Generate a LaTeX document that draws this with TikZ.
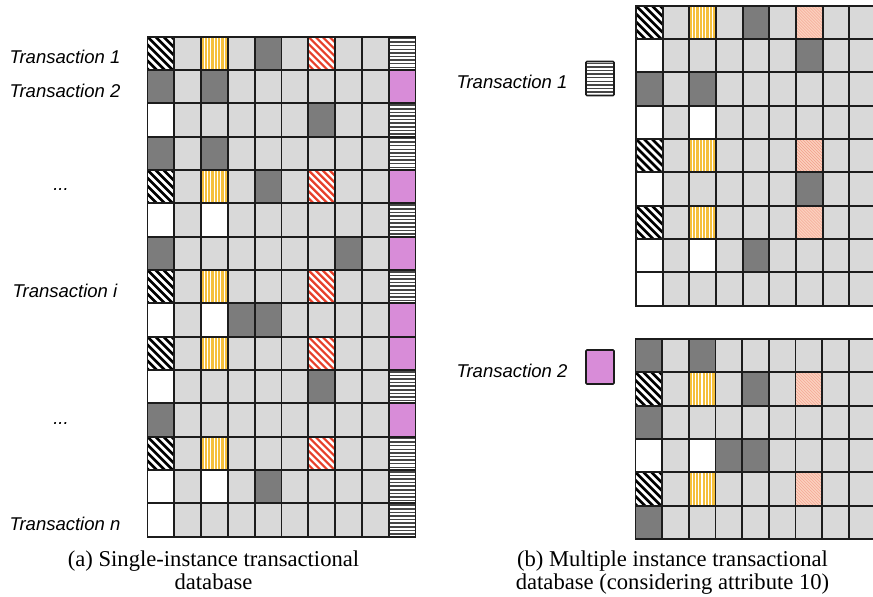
\documentclass[tikz,border=0pt]{standalone}
\usepackage{fontspec}
\setmainfont{Liberation Serif}
\newfontfamily\labelfont{Liberation Sans}

\definecolor{cgray}{RGB}{217,217,217}
\definecolor{cdark}{RGB}{124,124,124}
\definecolor{cpink}{RGB}{216,140,216}
\definecolor{cyellow}{RGB}{245,192,60}
\definecolor{cred}{RGB}{232,64,42}
\definecolor{cpale}{RGB}{251,208,190}
\definecolor{cpaleline}{RGB}{242,158,138}
\definecolor{cstripe}{RGB}{70,70,70}
\definecolor{cline}{RGB}{28,28,28}

% ---- cell painters: #1,#2 = top-left corner, #3 = width, #4 = height (pixels)
\newcommand\dbcellg[4]{\fill[cgray] (#1,#2) rectangle ++(#3,#4);}
\newcommand\dbcelld[4]{\fill[cdark] (#1,#2) rectangle ++(#3,#4);}
\newcommand\dbcellw[4]{\fill[white] (#1,#2) rectangle ++(#3,#4);}
\newcommand\dbcellp[4]{\fill[cpink] (#1,#2) rectangle ++(#3,#4);}
% black diagonal hatching
\newcommand\dbcellh[4]{\fill[white] (#1,#2) rectangle ++(#3,#4);
  \begin{scope}\clip (#1,#2) rectangle ++(#3,#4);
  \foreach \k in {-40,-32,...,32} \draw[black, line width=2.3pt] ({#1+(\k)},#2) -- ++(42,42);
  \end{scope}}
% red diagonal hatching
\newcommand\dbcellr[4]{\fill[white] (#1,#2) rectangle ++(#3,#4);
  \begin{scope}\clip (#1,#2) rectangle ++(#3,#4);
  \foreach \k in {-42,-35,...,35} \draw[cred, line width=1.9pt] ({#1+(\k)},#2) -- ++(42,42);
  \end{scope}}
% pale red, finely hatched
\newcommand\dbcellq[4]{\fill[cpale] (#1,#2) rectangle ++(#3,#4);
  \begin{scope}\clip (#1,#2) rectangle ++(#3,#4);
  \foreach \k in {-42,-39,...,36} \draw[cpaleline, line width=0.35pt] ({#1+(\k)},#2) -- ++(42,42);
  \end{scope}}
% yellow vertical stripes
\newcommand\dbcelly[4]{\fill[white] (#1,#2) rectangle ++(#3,#4);
  \begin{scope}\clip (#1,#2) rectangle ++(#3,#4);
  \foreach \k in {0,...,8} \draw[cyellow, line width=1.9pt] ({#1+1.6+\k*3.3},#2) -- ++(0,#4);
  \end{scope}}
% horizontal stripes
\newcommand\dbcells[4]{\fill[white] (#1,#2) rectangle ++(#3,#4);
  \begin{scope}\clip (#1,#2) rectangle ++(#3,#4);
  \foreach \k in {0,...,9} \draw[cstripe, line width=1.3pt] (#1,{#2+1.8+\k*3.6}) -- ++(#3,0);
  \end{scope}}

% one row of cells: x0, y0, cell width, cell height, list of cell codes (macro)
\newcommand\dbrow[5]{\foreach \t [count=\i from 0] in #5 {%
  \csname dbcell\t\endcsname{#1+\i*#3}{#2}{#3}{#4}}}
% grid lines: x0, y0, cell width, cell height, columns, rows
\newcommand\dblines[6]{%
  \foreach \i in {0,...,#5} \draw[gridline] ({#1+\i*#3},#2) -- ++(0,{#6*#4});
  \foreach \j in {0,...,#6} \draw[gridline] (#1,{#2+\j*#4}) -- ++({#5*#3},0);}

\begin{document}
\begin{tikzpicture}[x=0.03cm, y=-0.03cm,
  gridline/.style={cline, line width=1.6pt, line cap=rect},
  lbl/.style={font=\labelfont\itshape\fontsize{15.8}{18}\selectfont, inner sep=0pt, anchor=base},
  captext/.style={font=\fontsize{19.3}{20}\selectfont, inner sep=0pt, anchor=base}]
\useasboundingbox (0,0) rectangle (873,597);
\clip (0,0) rectangle (873,597);

% ---------- (a) single-instance database
\foreach \r [count=\j from 0] in {
  {h,g,y,g,d,g,r,g,g,s},
  {d,g,d,g,g,g,g,g,g,p},
  {w,g,g,g,g,g,d,g,g,s},
  {d,g,d,g,g,g,g,g,g,s},
  {h,g,y,g,d,g,r,g,g,p},
  {w,g,w,g,g,g,g,g,g,s},
  {d,g,g,g,g,g,g,d,g,p},
  {h,g,y,g,g,g,r,g,g,s},
  {w,g,w,d,d,g,g,g,g,p},
  {h,g,y,g,g,g,r,g,g,p},
  {w,g,g,g,g,g,d,g,g,s},
  {d,g,g,g,g,g,g,g,g,p},
  {h,g,y,g,g,g,r,g,g,s},
  {w,g,w,g,d,g,g,g,g,s},
  {w,g,g,g,g,g,g,g,g,s}}
  {\dbrow{147.5}{36.7+\j*33.333}{26.8}{33.333}{\r}}
\dblines{147.5}{36.7}{26.8}{33.333}{10}{15}

\node[lbl] (ta1) at (65,63.8) {Transaction 1};
\node[lbl] (ta2) at (65,97.2) {Transaction 2};
\node[lbl] (tadots1) at (61,190.5) {...};
\node[lbl] (tai) at (65,297.2) {Transaction i};
\node[lbl] (tadots2) at (61,424) {...};
\node[lbl] (tan) at (65,530.5) {Transaction n};

\node[captext] (capa1) at (213.5,566.5) {(a) Single-instance transactional};
\node[captext] (capa2) at (213.5,589.5) {database};

% ---------- (b) multiple-instance database, attribute 10
\foreach \r [count=\j from 0] in {
  {h,g,y,g,d,g,q,g,g},
  {w,g,g,g,g,g,d,g,g},
  {d,g,d,g,g,g,g,g,g},
  {w,g,w,g,g,g,g,g,g},
  {h,g,y,g,g,g,q,g,g},
  {w,g,g,g,g,g,d,g,g},
  {h,g,y,g,g,g,q,g,g},
  {w,g,w,g,d,g,g,g,g},
  {w,g,g,g,g,g,g,g,g}}
  {\dbrow{636}{5.7+\j*33.333}{26.67}{33.333}{\r}}
\dblines{636}{5.7}{26.67}{33.333}{9}{9}

\foreach \r [count=\j from 0] in {
  {d,g,d,g,g,g,g,g,g},
  {h,g,y,g,d,g,q,g,g},
  {d,g,g,g,g,g,g,g,g},
  {w,g,w,d,d,g,g,g,g},
  {h,g,y,g,g,g,q,g,g},
  {d,g,g,g,g,g,g,g,g}}
  {\dbrow{635.5}{339+\j*33.333}{26.67}{33.333}{\r}}
\dblines{635.5}{339}{26.67}{33.333}{9}{6}

% instance keys
\dbcells{586}{61.5}{28}{34}
\draw[cline, line width=1.4pt, rounded corners=0.8pt] (586,61.5) rectangle ++(28,34);
\node[lbl] (tb1) at (512,88.3) {Transaction 1};

\dbcellp{586}{350}{28}{34}
\draw[cline, line width=1.4pt, rounded corners=0.8pt] (586,350) rectangle ++(28,34);
\node[lbl] (tb2) at (512,377) {Transaction 2};

\node[captext] (capb1) at (672.5,566.5) {(b) Multiple instance transactional};
\node[captext] (capb2) at (672.5,589.5) {database (considering attribute 10)};
\end{tikzpicture}
\end{document}
